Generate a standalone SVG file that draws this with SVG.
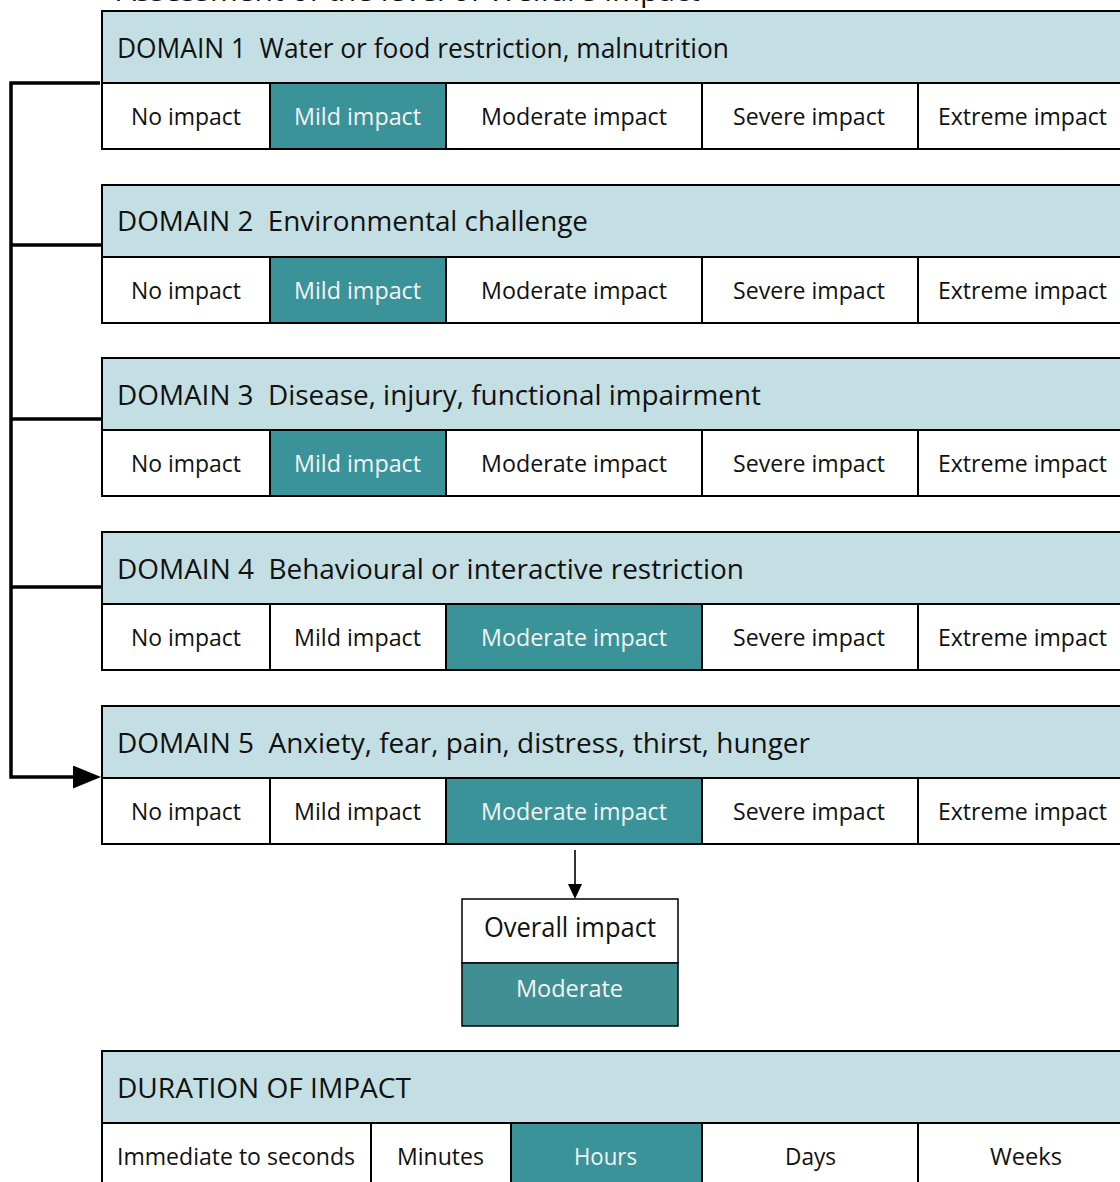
<svg xmlns="http://www.w3.org/2000/svg" width="1120" height="1182" viewBox="0 0 1120 1182">
<style>
.bg{fill:#ffffff}
.hdr{fill:#c4dfe3;stroke:#000;stroke-width:2}
.cell{fill:#ffffff;stroke:#000;stroke-width:2}
.sel{fill:#3a9399;stroke:#000;stroke-width:2}
.t{font-family:"Open Sans","Noto Sans","Liberation Sans",sans-serif;fill:#111111}
.h{font-size:28px}
.r{font-size:24px;text-anchor:middle}
.w{fill:#f4f4f4}
.conn{fill:none;stroke:#000;stroke-width:3.5}
.thin{fill:none;stroke:#000;stroke-width:1.6}
</style>
<defs>
<marker id="bigArrow" markerUnits="userSpaceOnUse" markerWidth="30" markerHeight="24" refX="0" refY="11.5" orient="auto">
<path d="M0,0 L28,11.5 L0,23 z" fill="#000"/>
</marker>
<marker id="smallArrow" markerUnits="userSpaceOnUse" markerWidth="16" markerHeight="15" refX="0" refY="7" orient="auto">
<path d="M0,0 L15,7 L0,14 z" fill="#000"/>
</marker>
</defs>
<rect class="bg" x="0" y="0" width="1120" height="1182"/>

<text class="t h" x="117" y="1" textLength="583" lengthAdjust="spacingAndGlyphs">Assessment of the level of Welfare Impact</text>

<g id="connectors">
<path class="conn" d="M100 83 H11 V777 H73" marker-end="url(#bigArrow)"/>
<path class="conn" d="M11 245 H101"/>
<path class="conn" d="M11 419 H101"/>
<path class="conn" d="M11 587 H101"/>
<path class="thin" d="M575 850 V884" marker-end="url(#smallArrow)"/>
</g>

<g id="domain1" transform="translate(0,11)">
<rect class="hdr" x="102" y="0" width="1040" height="72"/>
<rect class="cell" x="102" y="72" width="168" height="66"/>
<rect class="sel" x="270" y="72" width="176" height="66"/>
<rect class="cell" x="446" y="72" width="256" height="66"/>
<rect class="cell" x="702" y="72" width="216" height="66"/>
<rect class="cell" x="918" y="72" width="222" height="66"/>
<text class="t h" x="117" y="47" textLength="612" lengthAdjust="spacingAndGlyphs">DOMAIN 1&#160; Water or food restriction, malnutrition</text>
<text class="t r" x="186" y="114" textLength="110" lengthAdjust="spacingAndGlyphs">No impact</text>
<text class="t r w" x="357.5" y="114" textLength="127" lengthAdjust="spacingAndGlyphs">Mild impact</text>
<text class="t r" x="574" y="114" textLength="186" lengthAdjust="spacingAndGlyphs">Moderate impact</text>
<text class="t r" x="809" y="114" textLength="152" lengthAdjust="spacingAndGlyphs">Severe impact</text>
<text class="t r" x="1022.5" y="114" textLength="169" lengthAdjust="spacingAndGlyphs">Extreme impact</text>
</g>

<g id="domain2" transform="translate(0,185)">
<rect class="hdr" x="102" y="0" width="1040" height="72"/>
<rect class="cell" x="102" y="72" width="168" height="66"/>
<rect class="sel" x="270" y="72" width="176" height="66"/>
<rect class="cell" x="446" y="72" width="256" height="66"/>
<rect class="cell" x="702" y="72" width="216" height="66"/>
<rect class="cell" x="918" y="72" width="222" height="66"/>
<text class="t h" x="117" y="46" textLength="471" lengthAdjust="spacingAndGlyphs">DOMAIN 2&#160; Environmental challenge</text>
<text class="t r" x="186" y="114" textLength="110" lengthAdjust="spacingAndGlyphs">No impact</text>
<text class="t r w" x="357.5" y="114" textLength="127" lengthAdjust="spacingAndGlyphs">Mild impact</text>
<text class="t r" x="574" y="114" textLength="186" lengthAdjust="spacingAndGlyphs">Moderate impact</text>
<text class="t r" x="809" y="114" textLength="152" lengthAdjust="spacingAndGlyphs">Severe impact</text>
<text class="t r" x="1022.5" y="114" textLength="169" lengthAdjust="spacingAndGlyphs">Extreme impact</text>
</g>

<g id="domain3" transform="translate(0,358)">
<rect class="hdr" x="102" y="0" width="1040" height="72"/>
<rect class="cell" x="102" y="72" width="168" height="66"/>
<rect class="sel" x="270" y="72" width="176" height="66"/>
<rect class="cell" x="446" y="72" width="256" height="66"/>
<rect class="cell" x="702" y="72" width="216" height="66"/>
<rect class="cell" x="918" y="72" width="222" height="66"/>
<text class="t h" x="117" y="47" textLength="644" lengthAdjust="spacingAndGlyphs">DOMAIN 3&#160; Disease, injury, functional impairment</text>
<text class="t r" x="186" y="114" textLength="110" lengthAdjust="spacingAndGlyphs">No impact</text>
<text class="t r w" x="357.5" y="114" textLength="127" lengthAdjust="spacingAndGlyphs">Mild impact</text>
<text class="t r" x="574" y="114" textLength="186" lengthAdjust="spacingAndGlyphs">Moderate impact</text>
<text class="t r" x="809" y="114" textLength="152" lengthAdjust="spacingAndGlyphs">Severe impact</text>
<text class="t r" x="1022.5" y="114" textLength="169" lengthAdjust="spacingAndGlyphs">Extreme impact</text>
</g>

<g id="domain4" transform="translate(0,532)">
<rect class="hdr" x="102" y="0" width="1040" height="72"/>
<rect class="cell" x="102" y="72" width="168" height="66"/>
<rect class="cell" x="270" y="72" width="176" height="66"/>
<rect class="sel" x="446" y="72" width="256" height="66"/>
<rect class="cell" x="702" y="72" width="216" height="66"/>
<rect class="cell" x="918" y="72" width="222" height="66"/>
<text class="t h" x="117" y="47" textLength="627" lengthAdjust="spacingAndGlyphs">DOMAIN 4&#160; Behavioural or interactive restriction</text>
<text class="t r" x="186" y="114" textLength="110" lengthAdjust="spacingAndGlyphs">No impact</text>
<text class="t r" x="357.5" y="114" textLength="127" lengthAdjust="spacingAndGlyphs">Mild impact</text>
<text class="t r w" x="574" y="114" textLength="186" lengthAdjust="spacingAndGlyphs">Moderate impact</text>
<text class="t r" x="809" y="114" textLength="152" lengthAdjust="spacingAndGlyphs">Severe impact</text>
<text class="t r" x="1022.5" y="114" textLength="169" lengthAdjust="spacingAndGlyphs">Extreme impact</text>
</g>

<g id="domain5" transform="translate(0,706)">
<rect class="hdr" x="102" y="0" width="1040" height="72"/>
<rect class="cell" x="102" y="72" width="168" height="66"/>
<rect class="cell" x="270" y="72" width="176" height="66"/>
<rect class="sel" x="446" y="72" width="256" height="66"/>
<rect class="cell" x="702" y="72" width="216" height="66"/>
<rect class="cell" x="918" y="72" width="222" height="66"/>
<text class="t h" x="117" y="47" textLength="693" lengthAdjust="spacingAndGlyphs">DOMAIN 5&#160; Anxiety, fear, pain, distress, thirst, hunger</text>
<text class="t r" x="186" y="114" textLength="110" lengthAdjust="spacingAndGlyphs">No impact</text>
<text class="t r" x="357.5" y="114" textLength="127" lengthAdjust="spacingAndGlyphs">Mild impact</text>
<text class="t r w" x="574" y="114" textLength="186" lengthAdjust="spacingAndGlyphs">Moderate impact</text>
<text class="t r" x="809" y="114" textLength="152" lengthAdjust="spacingAndGlyphs">Severe impact</text>
<text class="t r" x="1022.5" y="114" textLength="169" lengthAdjust="spacingAndGlyphs">Extreme impact</text>
</g>

<g id="overall">
<rect x="462" y="899" width="216" height="64" fill="#ffffff" stroke="#000" stroke-width="1.5"/>
<rect x="462" y="963" width="216" height="63" fill="#3f8f93" stroke="#000" stroke-width="1.5"/>
<text class="t h" x="570" y="937" text-anchor="middle" textLength="172" lengthAdjust="spacingAndGlyphs">Overall impact</text>
<text class="t r w" x="569.5" y="997" textLength="107" lengthAdjust="spacingAndGlyphs">Moderate</text>
</g>

<g id="duration" transform="translate(0,1051)">
<rect class="hdr" x="102" y="0" width="1040" height="72"/>
<rect class="cell" x="102" y="72" width="269" height="66"/>
<rect class="cell" x="371" y="72" width="140" height="66"/>
<rect class="sel" x="511" y="72" width="191" height="66"/>
<rect class="cell" x="702" y="72" width="216" height="66"/>
<rect class="cell" x="918" y="72" width="222" height="66"/>
<text class="t h" x="117" y="47" textLength="294" lengthAdjust="spacingAndGlyphs">DURATION OF IMPACT</text>
<text class="t r" x="236" y="114" textLength="238" lengthAdjust="spacingAndGlyphs">Immediate to seconds</text>
<text class="t r" x="440.5" y="114" textLength="87" lengthAdjust="spacingAndGlyphs">Minutes</text>
<text class="t r w" x="605.5" y="114" textLength="63" lengthAdjust="spacingAndGlyphs">Hours</text>
<text class="t r" x="810.5" y="114" textLength="51" lengthAdjust="spacingAndGlyphs">Days</text>
<text class="t r" x="1026" y="114" textLength="72" lengthAdjust="spacingAndGlyphs">Weeks</text>
</g>
</svg>
